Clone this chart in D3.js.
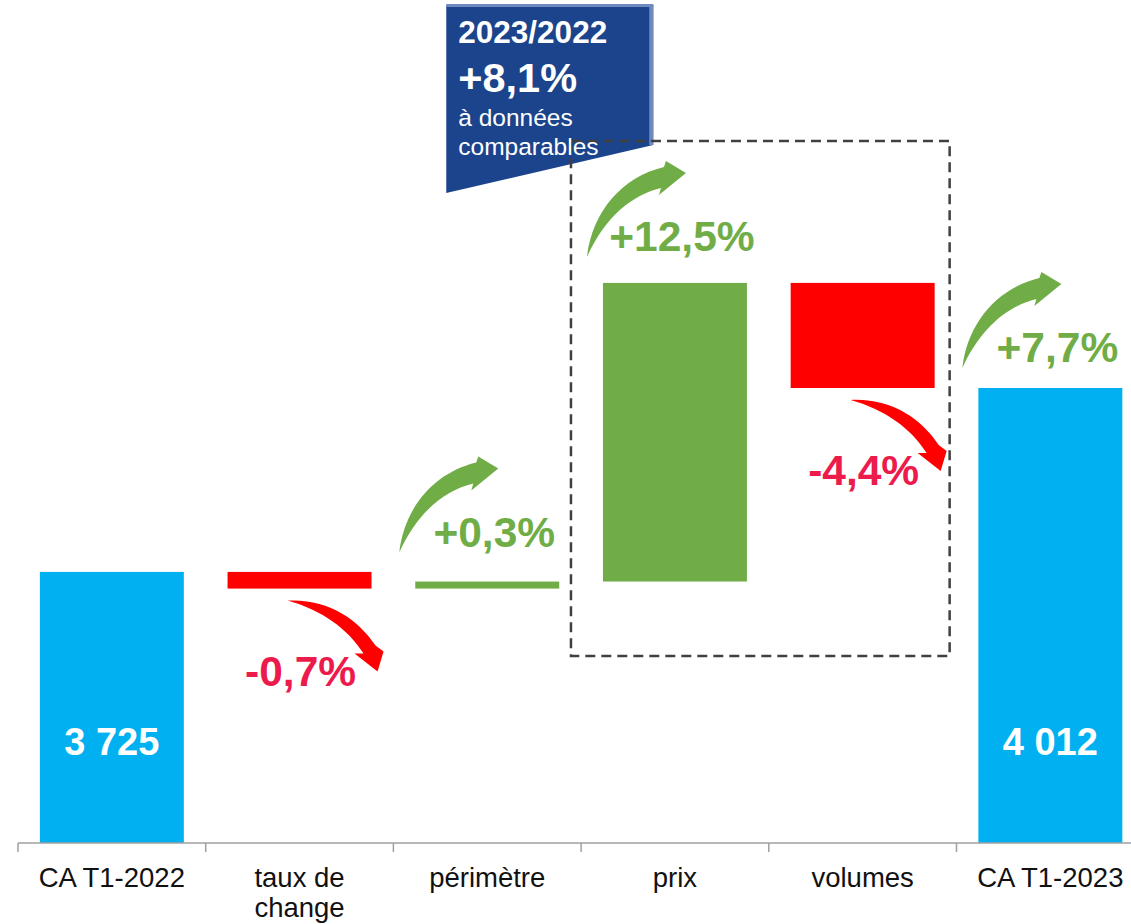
<!DOCTYPE html>
<html>
<head>
    <meta charset="utf-8">
    <title>CA T1-2023</title>
    <script src="https://d3js.org/d3.v7.min.js"></script>
    <style>
        body { margin: 0; background: #fff; }
        text { font-family: "Liberation Sans", Arial, sans-serif; }
    </style>
</head>
<body>
    <div id="chart"></div>
    <script>
        // data
        const categories = ["CA T1-2022", "taux de change", "périmètre", "prix", "volumes", "CA T1-2023"];
        const categoryLines = [["CA T1-2022"], ["taux de", "change"], ["périmètre"], ["prix"], ["volumes"], ["CA T1-2023"]];
        const startValue = 3725;
        const endValue = 4012;
        const deltas = [-26, 11, 466, -164];
        const deltaLabels = ["-0,7%", "+0,3%", "+12,5%", "-4,4%"];
        const totalLabels = ["3 725", "4 012"];
        const totalGrowth = "+7,7%";
        const boxTitle = "2023/2022";
        const boxValue = "+8,1%";
        const boxNote = ["à données", "comparables"];

        const W = 1131, H = 924;
        const baseY = 843;

        const svg = d3.select("#chart")
            .append("svg")
            .attr("width", W)
            .attr("height", H);

        // band scale, one slot per category
        const x = d3.scaleBand()
            .domain(categories)
            .range([18, 18 + 6 * 187.7])
            .paddingInner(0.233)
            .paddingOuter(0.1165);

        // truncated value axis (waterfall)
        const y = d3.scaleLinear()
            .domain([3302, endValue])
            .range([baseY, 388]);

        //Build waterfall steps
        let running = startValue;
        const steps = [{ cat: categories[0], y0: y.domain()[0], y1: startValue, type: "total" }];
        deltas.forEach((d, i) => {
            steps.push({ cat: categories[i + 1], y0: running, y1: running + d, type: d >= 0 ? "up" : "down", label: deltaLabels[i] });
            running += d;
        });
        steps.push({ cat: categories[5], y0: y.domain()[0], y1: endValue, type: "total" });

        const colors = { total: "#00B0F0", up: "#70AD47", down: "#FF0000" };
        const redText = "#EC1B4B";
        const bw = x.bandwidth();

        // blue callout box
        const bx = x("périmètre") + 31;
        svg.append("path")
            .attr("d", `M${bx},5 L${bx + 207},5 L${bx + 207},145 L${bx},193 Z`)
            .attr("fill", "#1B448C");
        svg.append("rect")
            .attr("x", bx + 203).attr("y", 5).attr("width", 4).attr("height", 140)
            .attr("fill", "#6E8AC0");
        svg.append("rect")
            .attr("x", bx).attr("y", 4).attr("width", 207).attr("height", 3)
            .attr("fill", "#6E8AC0");

        // dashed frame round prix + volumes
        const fx0 = x("prix") - 32, fx1 = x("volumes") + bw + 15;
        svg.append("rect")
            .attr("x", fx0).attr("y", 141)
            .attr("width", fx1 - fx0).attr("height", 515)
            .attr("fill", "none")
            .attr("stroke", "#404040")
            .attr("stroke-width", 2.5)
            .attr("stroke-dasharray", "10,6");

        svg.append("text").attr("x", bx + 12).attr("y", 43)
            .attr("fill", "#fff").attr("font-weight", "bold").attr("font-size", 31.5)
            .text(boxTitle);
        svg.append("text").attr("x", bx + 12).attr("y", 92)
            .attr("fill", "#fff").attr("font-weight", "bold").attr("font-size", 41.5)
            .text(boxValue);
        boxNote.forEach((t, i) => {
            svg.append("text").attr("x", bx + 12).attr("y", 126 + i * 29)
                .attr("fill", "#fff").attr("font-size", 24.5)
                .text(t);
        });

        // bars
        svg.append("g")
            .selectAll("rect")
            .data(steps)
            .enter().append("rect")
            .attr("x", d => x(d.cat))
            .attr("y", d => Math.min(y(d.y0), y(d.y1)))
            .attr("width", bw)
            .attr("height", d => Math.abs(y(d.y0) - y(d.y1)))
            .attr("fill", d => colors[d.type]);

        // axis line and ticks at slot boundaries
        svg.append("line")
            .attr("x1", 18).attr("x2", W)
            .attr("y1", baseY).attr("y2", baseY)
            .attr("stroke", "#A0A0A0").attr("stroke-width", 1.5);
        categories.forEach((c, i) => {
            const tx = x(c) - x.step() * x.paddingOuter();
            svg.append("line")
                .attr("x1", tx).attr("x2", tx)
                .attr("y1", baseY).attr("y2", baseY + 9)
                .attr("stroke", "#A0A0A0").attr("stroke-width", 1.5);
            categoryLines[i].forEach((t, j) => {
                svg.append("text")
                    .attr("x", x(c) + bw / 2)
                    .attr("y", 887 + j * 30)
                    .attr("text-anchor", "middle")
                    .attr("font-size", 27.5)
                    .attr("fill", "#111")
                    .text(t);
            });
        });

        // values inside total bars
        [steps[0], steps[5]].forEach((d, i) => {
            svg.append("text")
                .attr("x", x(d.cat) + bw / 2)
                .attr("y", 755)
                .attr("text-anchor", "middle")
                .attr("font-size", 38)
                .attr("font-weight", "bold")
                .attr("fill", "#fff")
                .text(totalLabels[i]);
        });

        //Arrows
        const upArrow = "M0,0 C5,-45 35,-80 77,-90 L79,-96 L99,-84 L72,-62 L74,-69 C45,-62 18,-40 0,0 Z";
        const downArrow = "M0,0 C40,-2 70,18 88,45 L96,51 L90,71 L67,53 L76,53 C60,28 35,10 0,0 Z";

        function addUp(d, label, dy) {
            const top = y(Math.max(d.y0, d.y1));
            const ly = top + dy;
            svg.append("path")
                .attr("d", upArrow)
                .attr("transform", `translate(${x(d.cat) - 16},${ly + 6})`)
                .attr("fill", colors.up);
            svg.append("text")
                .attr("x", x(d.cat) + bw / 2 + 7)
                .attr("y", ly)
                .attr("text-anchor", "middle")
                .attr("font-size", 42.5)
                .attr("font-weight", "bold")
                .attr("fill", colors.up)
                .text(label);
        }

        function addDown(d, label) {
            const bottom = y(Math.min(d.y0, d.y1));
            svg.append("path")
                .attr("d", downArrow)
                .attr("transform", `translate(${x(d.cat) + bw / 2 - 12},${bottom + 12})`)
                .attr("fill", colors.down);
            svg.append("text")
                .attr("x", x(d.cat) + bw / 2 + 1)
                .attr("y", bottom + 97)
                .attr("text-anchor", "middle")
                .attr("font-size", 42.5)
                .attr("font-weight", "bold")
                .attr("fill", redText)
                .text(label);
        }

        steps.slice(1, 5).forEach(d => {
            if (d.type === "up") addUp(d, d.label, d.cat === "périmètre" ? -35 : -32);
            else addDown(d, d.label);
        });
        addUp(steps[5], totalGrowth, -26);
    </script>
</body>
</html>
